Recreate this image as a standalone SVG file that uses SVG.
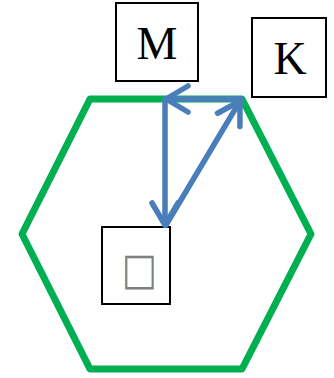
<svg xmlns="http://www.w3.org/2000/svg" width="334" height="378" viewBox="0 0 334 378">
<style>
.box{fill:#fff;stroke:#000;stroke-width:2}
.lbl{font-family:"Liberation Serif","Times New Roman",serif;font-size:46px;fill:#000;text-anchor:middle}
.conn{fill:none;stroke:#4A7EBB;stroke-width:5.5;stroke-linecap:round}
</style>
<defs>
<marker id="arr" markerUnits="userSpaceOnUse" markerWidth="60" markerHeight="60" viewBox="-30 -30 60 60" refX="0" refY="0" orient="auto" overflow="visible">
<path d="M-22,-13 L0,0 L-22,13" fill="none" stroke="#4A7EBB" stroke-width="5.5" stroke-linecap="round" stroke-linejoin="round"/>
</marker>
</defs>
<g id="hexagon">
<polygon points="90,99 242,99 311,234 242,369 90,369 22,234" fill="none" stroke="#00B050" stroke-width="7" stroke-linejoin="round"/>
</g>
<g id="node-M">
<rect class="box" x="116" y="3" width="82" height="78"/>
<text class="lbl" x="157" y="59">M</text>
</g>
<g id="node-K">
<rect class="box" x="252" y="18" width="74" height="79"/>
<text class="lbl" x="290" y="74">K</text>
</g>
<g id="node-bottom">
<rect class="box" x="102" y="227" width="68" height="77"/>
<text transform="translate(139.5,0) scale(0.85,1)" x="0" y="284" font-family="DejaVu Sans,sans-serif" font-size="44" fill="#808080" text-anchor="middle">□</text>
</g>
<g id="connectors">
<line class="conn" x1="241" y1="99" x2="166" y2="99" marker-end="url(#arr)"/>
<line class="conn" x1="165" y1="99" x2="165" y2="225" marker-end="url(#arr)"/>
<line class="conn" x1="166" y1="225" x2="240" y2="101" marker-end="url(#arr)"/>
</g>
</svg>
